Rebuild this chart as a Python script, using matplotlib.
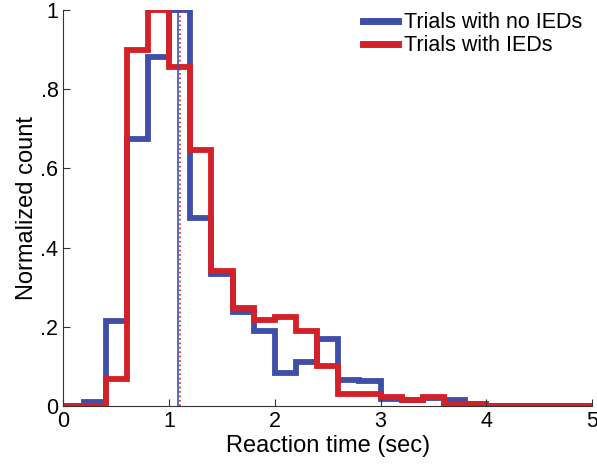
import numpy as np
import matplotlib.pyplot as plt

plt.rcParams['font.family'] = ['Liberation Sans', 'DejaVu Sans']

# Bin edges (sec) and normalized counts per bin
bin_edges = np.round(np.arange(0, 5.01, 0.2), 2)
no_ieds = [0, 0.01, 0.215, 0.675, 0.88, 1.0, 0.475, 0.333, 0.237, 0.19,
           0.083, 0.11, 0.17, 0.066, 0.062, 0.018, 0.015, 0.02, 0.015, 0.005,
           0, 0, 0, 0, 0]
with_ieds = [0, 0, 0.068, 0.9, 1.0, 0.856, 0.646, 0.342, 0.247, 0.217,
             0.225, 0.19, 0.10, 0.03, 0.03, 0.023, 0.015, 0.022, 0.005, 0.005,
             0, 0, 0, 0, 0]
median_no_ieds = 1.08
median_with_ieds = 1.10

blue = '#3f4fa8'
red = '#d42027'


def main():
    fig = plt.figure(figsize=(5.97, 4.71), dpi=100)
    ax = fig.add_axes([0.106, 0.138, 0.886, 0.841])

    ax.stairs(no_ieds, bin_edges, color=blue, lw=4.2, label='Trials with no IEDs')
    ax.stairs(with_ieds, bin_edges, color=red, lw=4.2, label='Trials with IEDs')

    #Median lines
    ax.plot([median_no_ieds, median_no_ieds], [0, 1], color=blue, lw=1.2)
    ax.plot([median_with_ieds, median_with_ieds], [0, 1], color=red, lw=1.2, ls=':')

    ax.set_xlim(0, 5)
    ax.set_ylim(0, 1)
    ax.set_xticks([0, 1, 2, 3, 4, 5])
    ax.set_yticks([0, 0.2, 0.4, 0.6, 0.8, 1])
    ax.set_yticklabels(['0', '.2', '.4', '.6', '.8', '1'])
    ax.tick_params(direction='in', length=5, labelsize=15.5, color='#333333')
    ax.spines['top'].set_visible(False)
    ax.spines['right'].set_visible(False)
    for s in ['left', 'bottom']:
        ax.spines[s].set_color('#333333')
    ax.set_xlabel('Reaction time (sec)', fontsize=17, labelpad=2)
    ax.set_ylabel('Normalized count', fontsize=17, labelpad=2)

    leg = ax.legend(loc='upper right', bbox_to_anchor=(1.0, 1.018), frameon=False,
                    fontsize=15.5, handlelength=1.65, handletextpad=0.28,
                    labelspacing=0.08, borderaxespad=0.05)
    for line in leg.get_lines():
        line.set_linewidth(5)

    fig.savefig('out.png', dpi=100)


if __name__ == "__main__":
    main()
